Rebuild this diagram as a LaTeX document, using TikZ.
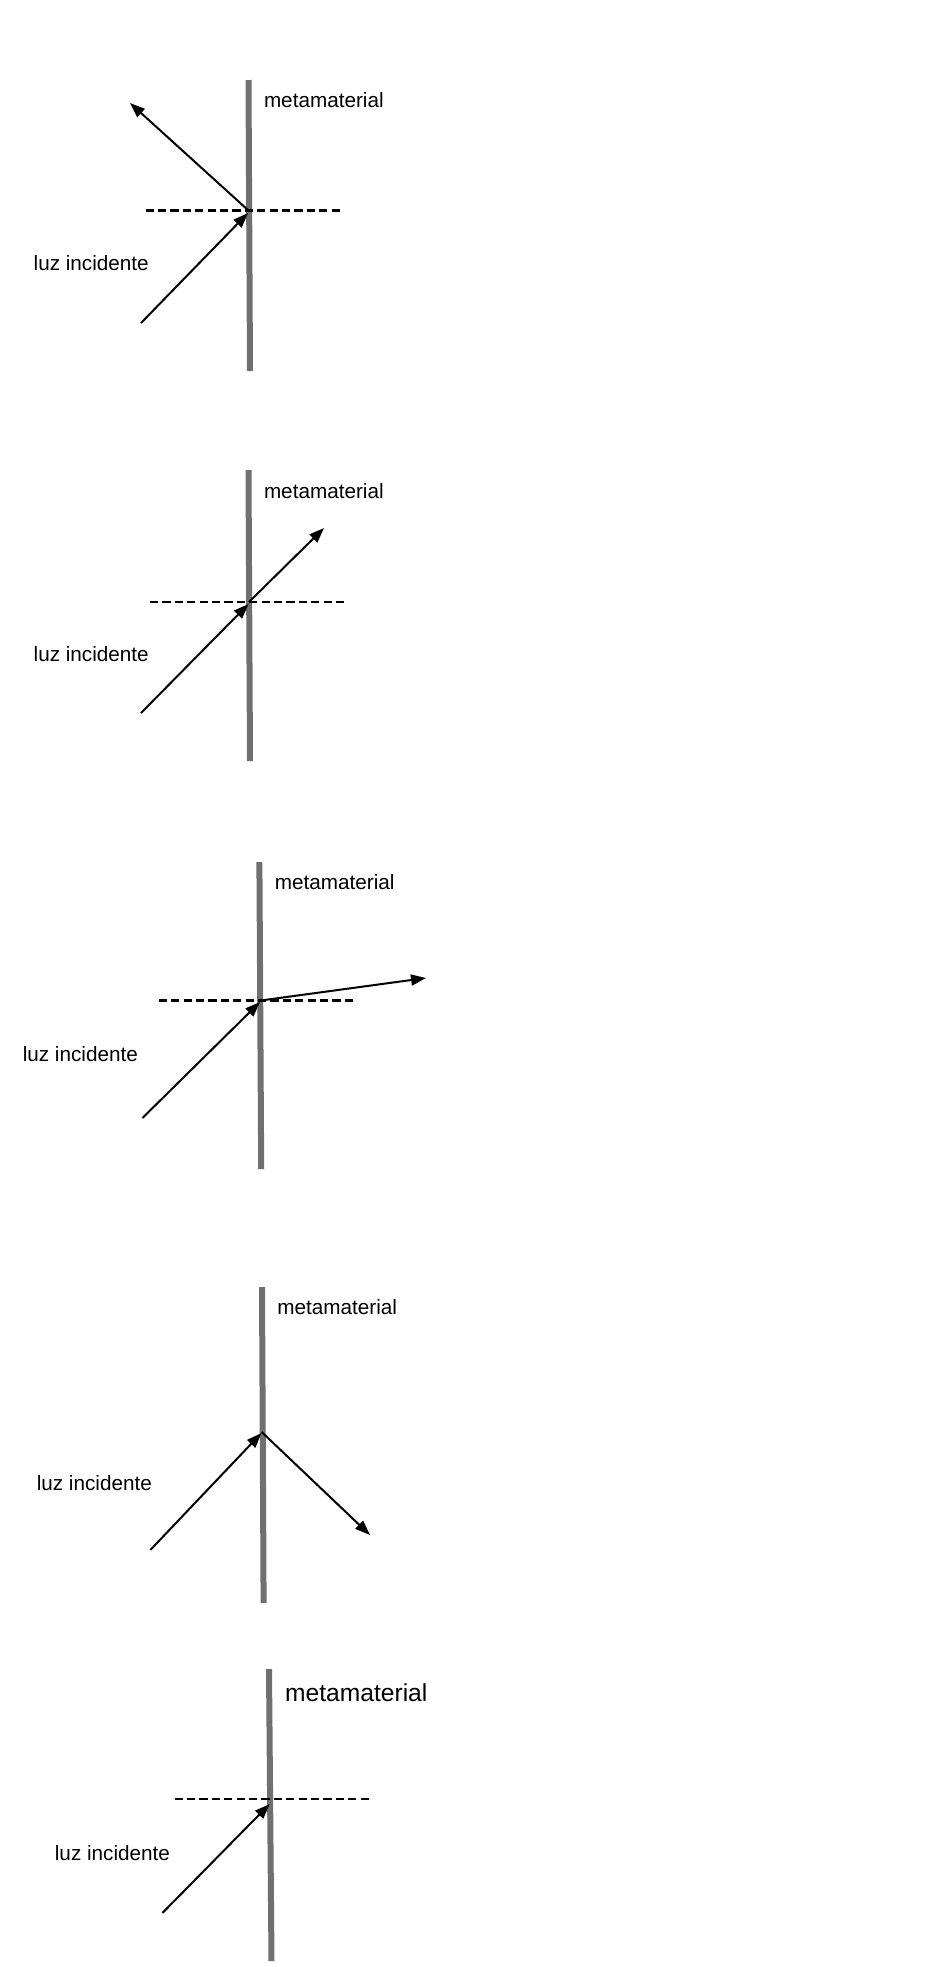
\documentclass[tikz,border=0pt]{standalone}
\usepackage{fontspec}
\setmainfont{Liberation Sans}
\usetikzlibrary{arrows.meta}
\definecolor{slab}{RGB}{112,112,112}
\tikzset{
  slabline/.style={draw=slab,line width=3pt},
  normalline/.style={draw=black,line width=1.25pt,dash pattern=on 4.1pt off 2.1pt},
  ray/.style={draw=black,line width=1pt,-{Triangle[length=7.5pt,width=5.5pt]}},
  lbl/.style={anchor=west,inner sep=0pt,font=\fontsize{10.35}{12}\selectfont},
  lblbig/.style={anchor=west,inner sep=0pt,font=\fontsize{12.3}{14}\selectfont}
}
\begin{document}
\begin{tikzpicture}[x=0.5pt,y=-0.5pt]
\useasboundingbox (0,0) rectangle (947,1967);
% ---------- panel 1 ----------
\coordinate (s1t) at (248.5,80); \coordinate (s1b) at (250,371);
\coordinate (d1l) at (145.5,210.7); \coordinate (d1r) at (342,210.7);
\coordinate (i1s) at (141,323); \coordinate (i1e) at (248,213);
\coordinate (r1s) at (248.5,210.5); \coordinate (r1e) at (130,103);
\draw[slabline] (s1t) -- (s1b);
\draw[normalline] (d1l) -- (d1r);
\draw[ray] (i1s) -- (i1e);
\draw[ray] (r1s) -- (r1e);
\node[lbl] (m1) at (263.6,100.5) {metamaterial};
\node[lbl] (l1) at (33.3,263.3) {luz incidente};
% ---------- panel 2 ----------
\coordinate (s2t) at (248.5,470); \coordinate (s2b) at (250,761);
\coordinate (d2l) at (150,602); \coordinate (d2r) at (346.7,602);
\coordinate (i2s) at (141,713); \coordinate (i2e) at (248.5,604);
\coordinate (t2s) at (249,602); \coordinate (t2e) at (324,528);
\draw[slabline] (s2t) -- (s2b);
\draw[normalline] (d2l) -- (d2r);
\draw[ray] (i2s) -- (i2e);
\draw[ray] (t2s) -- (t2e);
\node[lbl] (m2) at (263.6,490.7) {metamaterial};
\node[lbl] (l2) at (33.3,654) {luz incidente};
% ---------- panel 3 ----------
\coordinate (s3t) at (259.4,862); \coordinate (s3b) at (261.2,1169);
\coordinate (d3l) at (158.8,1000.5); \coordinate (d3r) at (354,1000.5);
\coordinate (i3s) at (142.4,1118); \coordinate (i3e) at (260,1002);
\coordinate (t3s) at (260.7,1000.5); \coordinate (t3e) at (426,978);
\draw[slabline] (s3t) -- (s3b);
\draw[normalline] (d3l) -- (d3r);
\draw[ray] (i3s) -- (i3e);
\draw[ray] (t3s) -- (t3e);
\node[lbl] (m3) at (274.5,881.7) {metamaterial};
\node[lbl] (l3) at (22.4,1054) {luz incidente};
% ---------- panel 4 ----------
\coordinate (s4t) at (262,1287); \coordinate (s4b) at (263.6,1603);
\coordinate (i4s) at (150.3,1550); \coordinate (i4e) at (261.5,1433);
\coordinate (r4s) at (261.7,1432); \coordinate (r4e) at (370,1535);
\draw[slabline] (s4t) -- (s4b);
\draw[ray] (i4s) -- (i4e);
\draw[ray] (r4s) -- (r4e);
\node[lbl] (m4) at (277,1307.3) {metamaterial};
\node[lbl] (l4) at (36.4,1483.3) {luz incidente};
% ---------- panel 5 ----------
\coordinate (s5t) at (269,1669); \coordinate (s5b) at (271.5,1961);
\coordinate (d5l) at (174.5,1799); \coordinate (d5r) at (371.5,1799);
\coordinate (i5s) at (162.4,1913); \coordinate (i5e) at (269.7,1804);
\draw[slabline] (s5t) -- (s5b);
\draw[normalline] (d5l) -- (d5r);
\draw[ray] (i5s) -- (i5e);
\node[lblbig] (m5) at (284.8,1692.7) {metamaterial};
\node[lbl] (l5) at (54.5,1852.7) {luz incidente};
\end{tikzpicture}
\end{document}
